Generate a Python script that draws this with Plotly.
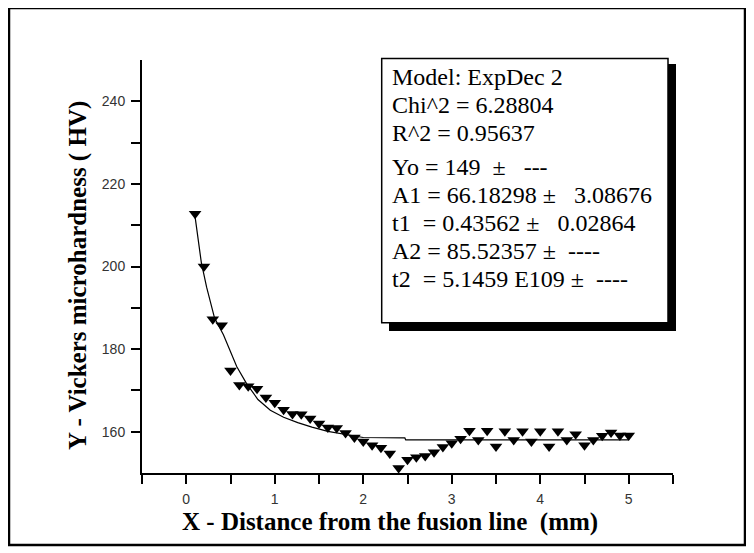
import plotly.graph_objects as go

# ---------------- data ----------------
dist_mm = [0.1, 0.2, 0.3, 0.4, 0.5, 0.6, 0.7, 0.8, 0.9, 1.0,
           1.1, 1.2, 1.3, 1.4, 1.5, 1.6, 1.7, 1.8, 1.9, 2.0,
           2.1, 2.2, 2.3, 2.4, 2.5, 2.6, 2.7, 2.8, 2.9, 3.0,
           3.1, 3.2, 3.3, 3.4, 3.5, 3.6, 3.7, 3.8, 3.9, 4.0,
           4.1, 4.2, 4.3, 4.4, 4.5, 4.6, 4.7, 4.8, 4.9, 5.0]
hardness_hv = [212.8, 200.0, 187.2, 185.8, 174.8, 171.3, 171.0, 170.4, 168.3, 167.0,
               165.3, 164.3, 164.2, 163.2, 162.0, 161.0, 160.9, 159.7, 158.6, 157.6,
               156.7, 156.1, 154.7, 151.2, 153.2, 153.8, 154.1, 155.0, 156.3, 157.2,
               158.3, 160.2, 158.0, 160.2, 156.4, 160.1, 158.0, 160.1, 157.6, 160.1,
               156.4, 160.1, 158.0, 159.4, 156.7, 158.0, 159.0, 159.8, 159.1, 159.1]

fit_x = [0.1, 0.17, 0.23, 0.32, 0.42, 0.5, 0.57, 0.68, 0.81, 0.95,
         1.1, 1.26, 1.42, 1.6, 1.8, 2.0, 2.47, 2.48, 3.1, 5.0]
fit_y = [212.0, 201.0, 195.0, 187.5, 183.5, 179.5, 175.8, 171.7, 167.8, 165.2,
         163.5, 162.2, 161.1, 160.1, 159.3, 158.6, 158.5, 158.0, 158.0, 158.0]

x_tick_vals = [-0.5, 0, 0.5, 1, 1.5, 2, 2.5, 3, 3.5, 4, 4.5, 5, 5.5]
x_tick_text = ['', '0', '', '1', '', '2', '', '3', '', '4', '', '5', '']
y_tick_vals = [160, 170, 180, 190, 200, 210, 220, 230, 240]
y_tick_text = ['160', '', '180', '', '200', '', '220', '', '240']

x_title = "X - Distance from the fusion line \u00a0(mm)"
y_title = "Y - Vickers microhardness ( HV)"

NB = "\u00a0"
fit_report = [
    "Model: ExpDec 2",
    "Chi^2 = 6.28804",
    "R^2 = 0.95637",
    "Yo = 149 " + NB + "\u00b1 " + NB + NB + "---",
    "A1 = 66.18298 \u00b1 " + NB + NB + "3.08676",
    "t1 " + NB + "= 0.43562 \u00b1 " + NB + NB + "0.02864",
    "A2 = 85.52357 \u00b1 " + NB + "----",
    "t2 " + NB + "= 5.1459 E109 \u00b1 " + NB + "----",
]
report_line_px = [77, 105, 133, 167, 195, 223, 251, 279]

# ---------------- layout geometry ----------------
# The page body adds an 8 px offset; target positions below are page pixels.
W, H = 754, 553
OFF = 8
PL, PT, PW, PH = 142, 60, 531, 413          # plot area on the page
ML, MT = PL - OFF, PT - OFF
MR, MB = W - ML - PW, H - MT - PH


def px_x(p):
    return (p - PL) / PW


def px_y(p):
    return (PT + PH - p) / PH


fig = go.Figure()

fig.add_trace(go.Scatter(
    x=fit_x, y=fit_y, mode="lines",
    line=dict(color="black", width=1.2),
    hoverinfo="skip", showlegend=False,
))
fig.add_trace(go.Scatter(
    x=dist_mm, y=hardness_hv, mode="markers",
    marker=dict(symbol="triangle-down", size=11, color="black",
                line=dict(width=0)),
    showlegend=False,
))

axis_common = dict(
    showline=True, linewidth=2, linecolor="black", mirror=False,
    ticks="outside", ticklen=9, tickwidth=1.5, tickcolor="black",
    showgrid=False, zeroline=False, automargin=False,
    ticklabelstandoff=3,
    tickfont=dict(family="Liberation Sans, Arial, sans-serif", size=14, color="#333333"),
)

fig.update_xaxes(range=[-0.5, 5.5], tickmode="array",
                 tickvals=x_tick_vals, ticktext=x_tick_text, **axis_common)
fig.update_yaxes(range=[150, 250], tickmode="array",
                 tickvals=y_tick_vals, ticktext=y_tick_text, **axis_common)

shapes = [
    # outer frame of the figure
    dict(type="rect", xref="paper", yref="paper",
         x0=px_x(9), x1=px_x(745), y0=px_y(545), y1=px_y(8),
         line=dict(color="black", width=2.5), layer="above"),
    # shadow of the fit report box
    dict(type="rect", xref="paper", yref="paper",
         x0=px_x(389), x1=px_x(676), y0=px_y(331), y1=px_y(64),
         fillcolor="black", line=dict(width=0), layer="above"),
    # fit report box
    dict(type="rect", xref="paper", yref="paper",
         x0=px_x(381.7), x1=px_x(668), y0=px_y(322.7), y1=px_y(58.5),
         fillcolor="white", line=dict(color="black", width=1.5), layer="above"),
]

annotations = []
for txt, ypx in zip(fit_report, report_line_px):
    annotations.append(dict(
        text=txt, xref="paper", yref="paper",
        x=px_x(390), y=px_y(ypx), xanchor="left", yanchor="middle",
        showarrow=False,
        font=dict(family="Liberation Serif, Times New Roman, serif", size=24, color="black"),
    ))

annotations.append(dict(
    text="<b>" + x_title + "</b>", xref="paper", yref="paper",
    x=px_x(390), y=px_y(522), xanchor="center", yanchor="middle",
    showarrow=False,
    font=dict(family="Liberation Serif, Times New Roman, serif", size=25, color="black"),
))
annotations.append(dict(
    text="<b>" + y_title + "</b>", xref="paper", yref="paper",
    x=px_x(78), y=px_y(276), xanchor="center", yanchor="middle",
    textangle=-90, showarrow=False,
    font=dict(family="Liberation Serif, Times New Roman, serif", size=25, color="black"),
))

fig.update_layout(
    template="none",
    width=W, height=H,
    margin=dict(l=ML, r=MR, t=MT, b=MB, pad=0),
    paper_bgcolor="white", plot_bgcolor="white",
    shapes=shapes, annotations=annotations,
    showlegend=False,
)

fig.write_html("out.html")
